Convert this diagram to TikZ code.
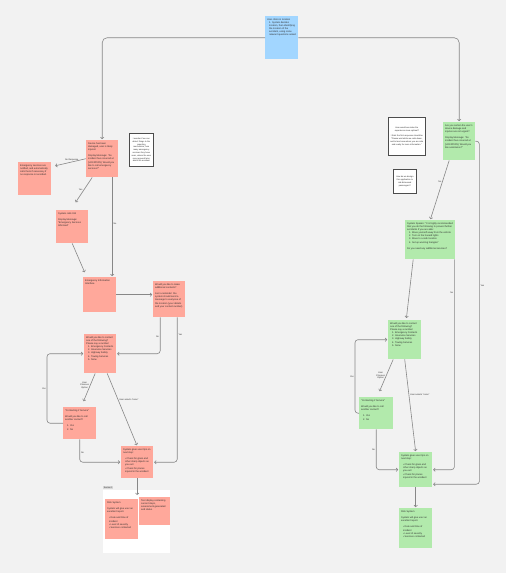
\documentclass[tikz,border=0pt]{standalone}
\usepackage{fontspec}
\setmainfont{Liberation Sans}
\usetikzlibrary{arrows.meta}
\definecolor{cBg}{RGB}{242,242,242}
\definecolor{cRed}{RGB}{255,168,155}
\definecolor{cGreen}{RGB}{178,234,172}
\definecolor{cBlue}{RGB}{162,214,255}
\definecolor{cConn}{RGB}{135,135,135}
\definecolor{cTxt}{RGB}{45,45,45}
\newcommand{\nbx}[4][t]{\parbox[c][\dimexpr#3pt-5pt\relax][#1]{\dimexpr#2pt-4pt\relax}{#4}}
\newcommand{\gap}{\par\vspace{\baselineskip}}
\begin{document}
\begin{tikzpicture}[x=1pt,y=-1pt,
  note/.style={anchor=north west, inner xsep=2pt, inner ysep=2.5pt, font=\fontsize{2.4}{3.1}\selectfont, text=cTxt},
  rnote/.style={note, fill=cRed},
  gnote/.style={note, fill=cGreen},
  bnote/.style={note, fill=cBlue},
  cnote/.style={note, fill=white, draw=black!70, line width=0.7pt, font=\fontsize{2.1}{2.8}\selectfont},
  conn/.style={draw=cConn, line width=0.6pt, -{Straight Barb[length=1.6pt,width=3.4pt]}, rounded corners=3pt, shorten >=0.8pt},
  lbl/.style={font=\fontsize{2.2}{2.6}\selectfont, text=cTxt, inner sep=1pt, align=center},
  framebox/.style={anchor=north west, fill=white, inner sep=0pt, minimum width=67pt, minimum height=63pt},
  tagbox/.style={anchor=south west, fill=black!15, text=cTxt, inner sep=0.7pt, font=\fontsize{2.1}{2.5}\selectfont}
]
\fill[cBg] (0,0) rectangle (506,573);
\useasboundingbox (0,0) rectangle (506,573);

% section frame
\node[framebox] (sec) at (103,490) {};
\node[tagbox] (sectag) at (103,489.5) {Section 1};

% top blue
\node[bnote] (b) at (265,16) {\nbx{33}{43}{\raggedright User clicks in location\par\leftskip=2pt 1. System decides location, then identifying the location of the accident, using some relevant questions asked}};

% left (red) column
\node[rnote] (r1) at (86,140) {\nbx{32}{37}{\raggedright Device has been damaged, user is likely injured.\gap Display Message: ``An incident has occurred at [LOCATION]. Would you like to call emergency services?''}};
\node[cnote] (n1) at (129,133) {\nbx[c]{24}{33}{\centering I wonder if we can detect things in the reporting mechanism, how many emergency services they have seen, where the user may respond later about the accident}};
\node[rnote] (r2) at (18,162) {\nbx{33}{33}{\raggedright Emergency services are notified, and automatically calls them if necessary if no response is recorded.}};
\node[rnote] (r3) at (56,210) {\nbx{32}{33}{\raggedright System calls 911\gap Display Message: ``Emergency Services Informed''}};
\node[rnote] (r4) at (83,277) {\nbx{33}{35}{\raggedright Emergency Information Interface}};
\node[rnote] (r5) at (153,281) {\nbx{32}{36}{\raggedright Would you like to make additional contacts?\gap Just a reminder: the system should send a message to everyone of the location (your details and your contact number)}};
\node[rnote] (r6) at (84,334) {\nbx{32}{39}{\raggedright Would you like to contact one of the following? Please say a number:\par\leftskip=2pt 1. Emergency Contacts\\ 2. Insurance Services\\ 3. Highway Safety\\ 4. Towing Services\\ 5. None}};
\node[rnote] (r7) at (63,407) {\nbx{33}{32}{\raggedright ``Contacting \# Service''\gap Would you like to call another contact?\gap\leftskip=2pt 1. Yes\\ 2. No}};
\node[rnote] (r8) at (121,446) {\nbx{32}{32}{\raggedright System gives user tips on next step:\gap\leftskip=2pt • Check for glass and other sharp objects as you exit\\ • Check for places injured in the accident}};
\node[rnote] (r9) at (105,499) {\nbx{33}{40}{\raggedright Risk System\gap System will give user an excellent report.\gap\leftskip=2pt • Date and time of incident\\ • Level of severity\\ • Services contacted}};
\node[rnote] (r10) at (139,497) {\nbx{31}{28}{\raggedright Text display containing current steps, assessment generated and status}};

% right (green) column
\node[cnote] (n2) at (388,117) {\nbx[c]{37}{38}{\centering How would we make the experience more optimal?\gap I think the first response should be ``Please wait while we calm down, and let me know when you are safe and ready for more information.''}};
\node[cnote] (n3) at (393,169) {\nbx[c]{23}{24}{\centering How do we design this application to aid distressed passengers?}};
\node[gnote] (g1) at (443,122) {\nbx{32}{38}{\raggedright Are you certain the user's device damage and injuries are not urgent?\gap Display Message: ``An incident has occurred at [LOCATION]. Would you like assistance?''}};
\node[gnote] (g2) at (405,220) {\nbx{50}{39}{\raggedright System Speaks: ``It is highly recommended that you do the following to prevent further accidents if you are able:\par\leftskip=2pt 1. Move yourself away from the vehicle\\ 2. Turn on the hazard lights\\ 3. Move to a safe location\\ 4. Set up warning triangles''\gap\leftskip=0pt Do you need any additional services?}};
\node[gnote] (g3) at (388,320) {\nbx{33}{39}{\raggedright Would you like to contact one of the following? Please say a number:\par\leftskip=2pt 1. Emergency Contacts\\ 2. Insurance Services\\ 3. Highway Safety\\ 4. Towing Services\\ 5. None}};
\node[gnote] (g4) at (359,397) {\nbx{34}{32}{\raggedright ``Contacting \# Service''\gap Would you like to call another contact?\gap\leftskip=2pt 1. Yes\\ 2. No}};
\node[gnote] (g6) at (399,452) {\nbx{33}{35}{\raggedright System gives user tips on next step:\gap\leftskip=2pt • Check for glass and other sharp objects as you exit\\ • Check for places injured in the accident}};
\node[gnote] (g7) at (399,508) {\nbx{33}{40}{\raggedright Risk System\gap System will give user an excellent report.\gap\leftskip=2pt • Date and time of incident\\ • Level of severity\\ • Services contacted}};

% connectors from top
\draw[conn, rounded corners=5pt] (b.west) -| (r1.north);
\draw[conn, rounded corners=5pt] (b.east) -| (g1.north);

% left connectors
\draw[conn] (r1.west) -- node[lbl,above,pos=0.45]{No Response} ([shift={(3pt,-4pt)}]r2.north east);
\draw[conn] ([xshift=-10pt]r1.south) -- node[lbl,left,pos=0.5]{Yes} ([shift={(3pt,7pt)}]r3.north);
\draw[conn] ([xshift=10pt]r1.south) -- node[lbl,right,pos=0.47]{No} ([xshift=10pt]r1.south |- r4.north);
\draw[conn] (r3.south) -- ([shift={(2pt,4pt)}]r4.north west);
\draw[conn] (r4.east) -- (r4.east -| r5.west);
\draw[conn] ([xshift=-9pt]r5.south) |- node[lbl,left,pos=0.27]{No} (r6.east);
\draw[conn] ([xshift=8pt]r5.south) |- node[lbl,right,pos=0.06]{Yes} (r8.east);
\draw[conn] ([xshift=-5pt]r6.south) -- node[lbl,left,pos=0.42]{User\\Chooses\\Option} ([shift={(3.5pt,5pt)}]r7.north);
\draw[conn] ([xshift=7pt]r6.south) -- node[lbl,right,pos=0.36]{User selects ``none''} (r8.north);
\draw[conn] (r7.west) -- ++(-16,0) |- node[lbl,left,pos=0.25]{Yes} (r6.west);
\draw[conn] (r7.south) |- node[lbl,right,pos=0.3]{No} (r8.west);
\draw[conn, shorten >=4pt] (r8.south) -- (r8.south |- r9.north);

% right connectors
\draw[conn] ([xshift=-10pt]g1.south) -- node[lbl,left,pos=0.35]{No} (g2.north);
\draw[conn] (g1.east) -- ++(4,0) |- node[lbl,right,pos=0.21]{Yes} ([yshift=-14.5pt]g6.east);
\draw[conn] ([xshift=-1pt]g2.south east) |- node[lbl,left,pos=0.08]{No} (g6.east);
\draw[conn, shorten >=2pt] ([xshift=-17pt]g2.south) -- ([xshift=1.5pt]g3.north);
\draw[conn] ([xshift=-11.5pt]g3.south) -- node[lbl,left,pos=0.5]{User\\Chooses\\Option} ([shift={(3pt,5pt)}]g4.north);
\draw[conn] (g3.south) -- node[lbl,right,pos=0.38]{User selects ``none''} (g6.north);
\draw[conn] (g4.west) -- ++(-4,0) |- node[lbl,left,pos=0.25]{Yes} (g3.west);
\draw[conn] (g4.south) |- node[lbl,left,pos=0.25]{No} (g6.west);
\draw[conn] (g6.south) -- (g7.north);
\end{tikzpicture}
\end{document}
